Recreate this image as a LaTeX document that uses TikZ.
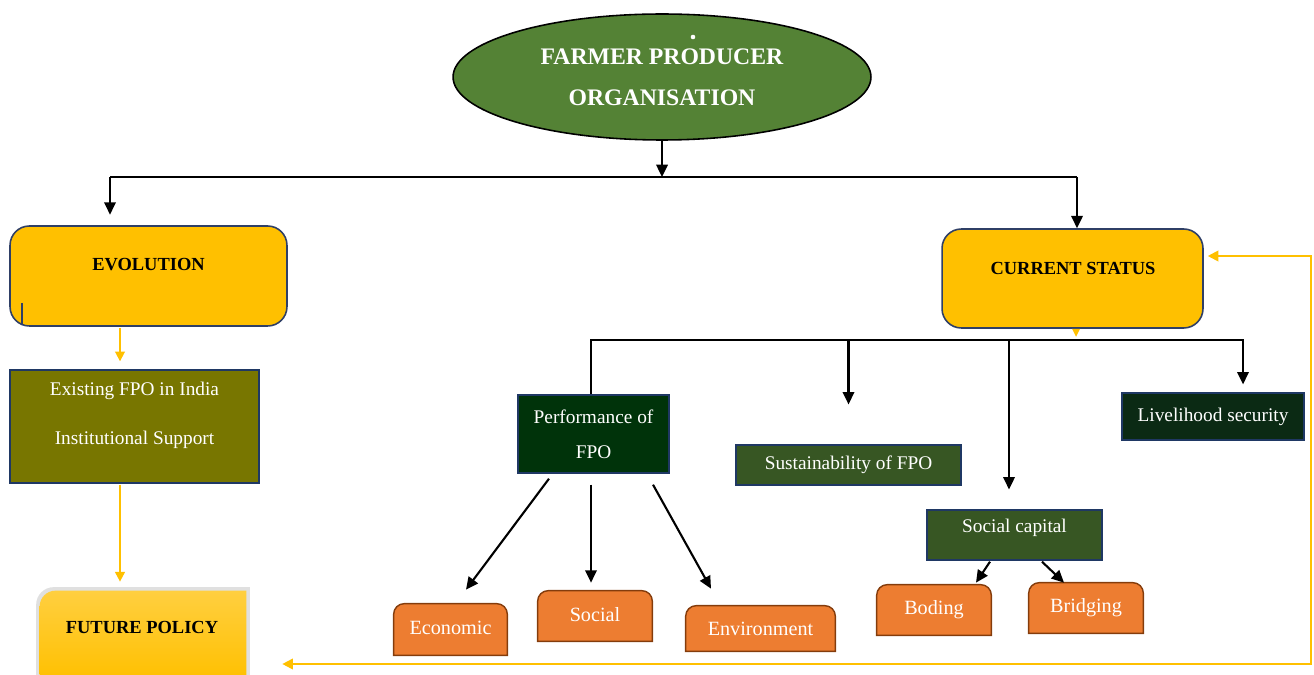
\documentclass[tikz,border=0pt]{standalone}
\usepackage{fontspec}
\setmainfont{Liberation Serif}
\usetikzlibrary{arrows.meta,shapes.geometric,backgrounds,calc}
\definecolor{fgreen}{HTML}{548235}
\definecolor{fyellow}{HTML}{FFC000}
\definecolor{fyellowlight}{HTML}{FFCF40}
\definecolor{boxedge}{HTML}{2F3F66}
\definecolor{darkedge}{HTML}{1F3864}
\definecolor{folive}{HTML}{787600}
\definecolor{fdark}{HTML}{00330A}
\definecolor{fmid}{HTML}{375623}
\definecolor{fblack}{HTML}{0B2A14}
\definecolor{forange}{HTML}{ED7D31}
\definecolor{fbrown}{HTML}{843C0C}
\begin{document}
\begin{tikzpicture}[x=0.02cm,y=-0.02cm,
  arr/.style={-{Triangle[length=7pt,width=6.5pt]},line width=1.2pt},
  yarr/.style={-{Triangle[length=5.5pt,width=5.5pt]},line width=1pt,draw=fyellow,fill=fyellow},
  ybox/.style={draw=boxedge,line width=0.9pt,fill=fyellow,rounded corners=11pt},
  dbox/.style={draw=darkedge,line width=0.8pt,text=white,font=\fontsize{11}{13}\selectfont,inner sep=0pt},
  obox/.style={inner sep=0pt,text=white,font=\fontsize{11.5}{13}\selectfont},
  head/.style={font=\bfseries\fontsize{10.5}{12}\selectfont,inner sep=0pt},
  wtext/.style={text=white,inner sep=0pt}
]
\useasboundingbox (0,0) rectangle (1314,675);
\clip (0,0) rectangle (1314,675);

% top ellipse
\node[ellipse,draw=black,line width=0.9pt,fill=fgreen,minimum width=8.36cm,minimum height=2.52cm,inner sep=0pt,text=white,font=\bfseries\fontsize{13.5}{23.5}\selectfont,align=center] (fpo) at (662,77) {FARMER PRODUCER\\ORGANISATION};
\fill[white] (693,37) circle[radius=1.3pt];

% yellow boxes
\node[ybox,minimum width=5.54cm,minimum height=2cm] (evo) at (148.5,276) {};
\node[head] (evot) at (148.5,265) {EVOLUTION};
\draw[boxedge,line width=0.6pt] (22,303) -- (22,325);

\node[ybox,minimum width=5.22cm,minimum height=1.98cm] (cs) at (1072.5,278.5) {};
\node[head] (cst) at (1073,268) {CURRENT STATUS};
\fill[fyellow] ($(cs.south)+(-0.5,0)$) -- ($(cs.south)+(7.5,0)$) -- ($(cs.south)+(3.5,8)$) -- cycle;

% top bar
\coordinate (bl) at (110,177);
\coordinate (br) at (1077,177);
\draw[arr] (fpo.south) -- (fpo.south |- bl);
\draw[line width=1.2pt] (bl) -- (br);
\draw[arr,shorten >=6pt] (bl) -- (bl |- evo.north);
\draw[arr] (br) -- (br |- cs.north);

% left column
\node[dbox,fill=folive,minimum width=4.98cm,minimum height=2.26cm] (exist) at (134.5,426.5) {};
\node[wtext,font=\fontsize{11}{27.8}\selectfont,align=center] (existt) at (134.5,415) {Existing FPO in India\\Institutional Support};

\node[minimum width=4.12cm,minimum height=1.78cm,inner sep=0pt] (fp) at (143,635.5) {};
\begin{scope}[on background layer]
\fill[black!12] ([xshift=-2pt]fp.south west) -- ([xshift=-2pt,yshift=-8pt]fp.north west) arc[start angle=180,end angle=90,radius=10pt] -- ([xshift=2pt,yshift=2pt]fp.north east) -- ([xshift=2pt]fp.south east) -- cycle;
\shade[top color=fyellowlight,bottom color=fyellow] (fp.south west) -- ([yshift=-9pt]fp.north west) arc[start angle=180,end angle=90,radius=9pt] -- (fp.north east) -- (fp.south east) -- cycle;
\end{scope}
\node[head] (fpt) at (142,627) {FUTURE POLICY};

\draw[yarr] ($(evo.south)+(-28.5,1)$) -- ($(exist.north)+(-14.5,-8)$);
\draw[yarr] ($(exist.south)+(-14.5,1)$) -- ($(fp.north)+(-23,-9)$);

% second level
\node[dbox,fill=fdark,minimum width=3.02cm,minimum height=1.56cm,align=center,font=\fontsize{11}{20}\selectfont] (perf) at (593.5,434) {Performance of\\FPO};
\node[dbox,fill=fmid,minimum width=4.5cm,minimum height=0.8cm] (sust) at (848.5,465) {Sustainability of FPO};
\node[dbox,fill=fblack,minimum width=3.64cm,minimum height=0.94cm] (live) at (1213,416.5) {Livelihood security};
\node[dbox,fill=fmid,minimum width=3.5cm,minimum height=1cm] (soc) at (1014.5,535) {};
\node[wtext,font=\fontsize{11}{13}\selectfont] (soct) at (1014.5,528) {Social capital};

\coordinate (b2l) at (591,340);
\coordinate (b2r) at (1243,340);
\draw[arr,shorten >=4.5pt] (b2l |- perf.north) -- (b2l) -- (b2r) -- (b2r |- live.north);
\draw[arr,shorten >=22.7pt] (sust.north |- b2l) -- (sust.north);
\draw[arr,shorten >=11.3pt] ($(soc.north |- b2l)+(-5.5,0)$) -- ($(soc.north)+(-5.5,0)$);

% orange boxes
\node[obox,minimum width=2.26cm,minimum height=1.02cm] (econ) at (450.5,629.5) {\raisebox{1.5pt}{Economic}};
\node[obox,minimum width=2.28cm,minimum height=1.0cm] (social) at (595,616) {\raisebox{1.5pt}{Social}};
\node[obox,minimum width=2.98cm,minimum height=0.9cm] (env) at (760.5,628.5) {Environment};
\node[obox,minimum width=2.28cm,minimum height=1.0cm] (bod) at (934,610) {\raisebox{1.5pt}{Boding}};
\node[obox,minimum width=2.28cm,minimum height=1.0cm] (bri) at (1086,608) {\raisebox{1.5pt}{Bridging}};
\begin{scope}[on background layer]
\foreach \n in {econ,social,env,bod,bri}{
  \filldraw[fill=forange,draw=fbrown,line width=0.8pt] (\n.south west) -- ([yshift=-6pt]\n.north west) arc[start angle=180,end angle=90,radius=6pt] -- ([xshift=-6pt]\n.north east) arc[start angle=90,end angle=0,radius=6pt] -- (\n.south east) -- cycle;
}
\end{scope}

\draw[arr] ($(perf.south)+(-44.5,5)$) -- ($(econ.north)+(15.5,-14)$);
\draw[arr] ($(perf.south)+(-2.5,11)$) -- ($(social.north)+(-4,-8)$);
\draw[arr] ($(perf.south)+(59.5,11)$) -- ($(env.north)+(-49.5,-17)$);
\draw[arr] ($(soc.south)+(-24.5,1)$) -- ($(bod.north)+(42,-2)$);
\draw[arr] ($(soc.south)+(27.5,1)$) -- ($(bri.north)+(-22,0)$);

% feedback loop
\coordinate (lp1) at (1311,664);
\coordinate (lp2) at (1311,256);
\draw[line width=1.1pt,draw=fyellow,fill=none,{Triangle[length=6pt,width=6pt,fill=fyellow]}-{Triangle[length=6pt,width=6pt,fill=fyellow]}] ($(fp.east)+(36,28.5)$) -- (lp1) -- (lp2) -- ($(cs.east)+(4,-22.5)$);
\end{tikzpicture}
\end{document}
